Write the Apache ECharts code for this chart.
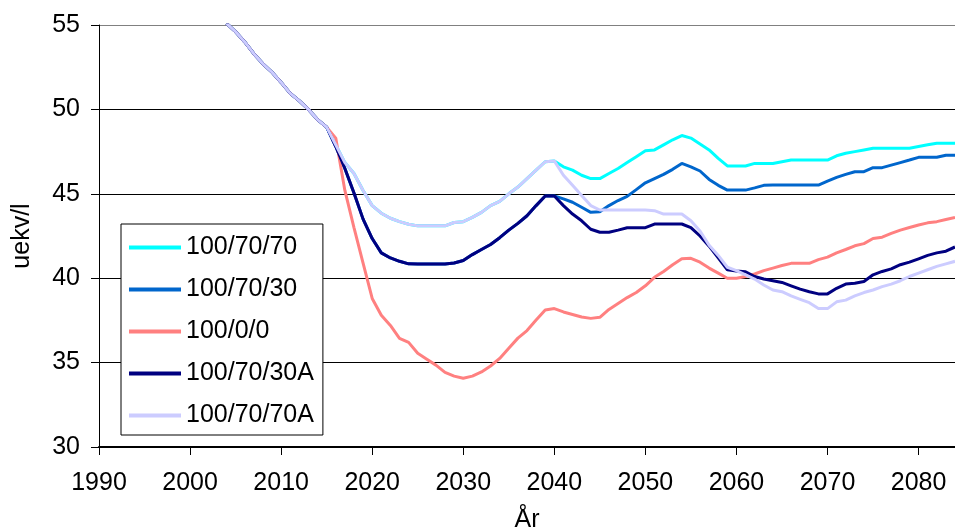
<!DOCTYPE html>
<html>
<head>
<meta charset="utf-8">
<script src="https://cdn.jsdelivr.net/npm/echarts@6/dist/echarts.min.js"></script>
<style>
    html, body { margin: 0; padding: 0; background: #fff; }
    #chart { width: 955px; height: 530px; }
</style>
</head>
<body>
<div id="chart"></div>
<script>
var years = [
    2004, 2005, 2006, 2007, 2008, 2009, 2010, 2011, 2012, 2013, 2014, 2015,
    2016, 2017, 2018, 2019, 2020, 2021, 2022, 2023, 2024, 2025,
    2026, 2027, 2028, 2029, 2030, 2031, 2032, 2033, 2034, 2035,
    2036, 2037, 2038, 2039, 2040, 2041, 2042, 2043, 2044, 2045,
    2046, 2047, 2048, 2049, 2050, 2051, 2052, 2053, 2054, 2055,
    2056, 2057, 2058, 2059, 2060, 2061, 2062, 2063, 2064, 2065,
    2066, 2067, 2068, 2069, 2070, 2071, 2072, 2073, 2074, 2075,
    2076, 2077, 2078, 2079, 2080, 2081, 2082, 2083, 2084
];

var seriesNames = ["100/70/70", "100/70/30", "100/0/0", "100/70/30A", "100/70/70A"];
var seriesColors = ["#00FFFF", "#0066CC", "#FF8080", "#000080", "#CCCCFF"];

// 2004-2015, all scenarios together
var sharedStart = [55.1, 54.6, 54.0, 53.3, 52.7, 52.2, 51.6, 50.95, 50.5, 50.0, 49.4, 48.95];

// 2016-2040, 100/70/70 and 100/70/70A run together
var upperMid = [
    47.9, 46.85, 46.2, 45.2, 44.3, 43.85, 43.55, 43.35, 43.2, 43.1,
    43.1, 43.1, 43.1, 43.3, 43.35, 43.6, 43.9, 44.3, 44.55, 45.0,
    45.4, 45.9, 46.4, 46.9, 46.95
];

// 2016-2040, 100/70/30 and 100/70/30A run together
var lowerMid = [
    47.8, 46.5, 45.05, 43.5, 42.35, 41.5, 41.2, 41.0, 40.85, 40.84,
    40.84, 40.84, 40.84, 40.9, 41.05, 41.4, 41.7, 42.0, 42.4, 42.85,
    43.25, 43.7, 44.3, 44.87, 44.87
];

// 2041-2084
var tail7070 = [
    46.6, 46.4, 46.1, 45.9, 45.9, 46.2, 46.5, 46.85, 47.2, 47.55,
    47.6, 47.9, 48.2, 48.45, 48.3, 47.95, 47.6, 47.1, 46.65, 46.65,
    46.65, 46.8, 46.8, 46.8, 46.9, 47.0, 47.0, 47.0, 47.0, 47.0,
    47.25, 47.4, 47.5, 47.6, 47.7, 47.7, 47.7, 47.7, 47.7, 47.8,
    47.9, 48.0, 48.0, 48.0
];

var tail7030 = [
    44.7, 44.5, 44.2, 43.9, 43.94, 44.3, 44.6, 44.85, 45.25, 45.65,
    45.9, 46.15, 46.45, 46.8, 46.6, 46.35, 45.85, 45.5, 45.22, 45.22,
    45.22, 45.35, 45.5, 45.52, 45.52, 45.52, 45.52, 45.52, 45.52, 45.75,
    45.97, 46.15, 46.31, 46.31, 46.55, 46.55, 46.7, 46.85, 47.0, 47.16,
    47.16, 47.16, 47.28, 47.28
];

var tail7030A = [
    44.3, 43.8, 43.4, 42.9, 42.72, 42.72, 42.85, 42.99, 42.99, 42.99,
    43.21, 43.21, 43.21, 43.21, 43.0, 42.5, 41.9, 41.2, 40.5, 40.43,
    40.38, 40.1, 39.95, 39.85, 39.75, 39.55, 39.35, 39.2, 39.07, 39.07,
    39.4, 39.65, 39.7, 39.8, 40.2, 40.4, 40.55, 40.8, 40.95, 41.15,
    41.35, 41.5, 41.6, 41.85
];

var tail7070A = [
    46.1, 45.5, 44.9, 44.3, 44.04, 44.04, 44.04, 44.04, 44.04, 44.04,
    44.0, 43.8, 43.8, 43.8, 43.4, 42.8, 41.95, 41.35, 40.65, 40.45,
    40.2, 39.95, 39.6, 39.3, 39.2, 38.95, 38.75, 38.55, 38.2, 38.2,
    38.6, 38.7, 38.95, 39.15, 39.3, 39.5, 39.65, 39.85, 40.1, 40.3,
    40.5, 40.7, 40.85, 41.0
];

// 2016-2084
var tail000 = [
    48.3, 45.2, 43.0, 40.9, 38.8, 37.8, 37.2, 36.44, 36.2, 35.55,
    35.2, 34.85, 34.42, 34.2, 34.07, 34.2, 34.45, 34.8, 35.25, 35.85,
    36.45, 36.9, 37.52, 38.12, 38.2, 38.0, 37.85, 37.7, 37.62, 37.68,
    38.15, 38.5, 38.85, 39.15, 39.55, 40.05, 40.4, 40.8, 41.15, 41.18,
    40.95, 40.6, 40.3, 40.0, 40.0, 40.1, 40.25, 40.45, 40.6, 40.75,
    40.88, 40.88, 40.88, 41.1, 41.25, 41.5, 41.7, 41.92, 42.05, 42.35,
    42.43, 42.65, 42.85, 43.0, 43.15, 43.28, 43.35, 43.48, 43.6
];

var yTicks = [30, 35, 40, 45, 50, 55];

var seriesValues = [
    sharedStart.concat(upperMid, tail7070),
    sharedStart.concat(lowerMid, tail7030),
    sharedStart.concat(tail000),
    sharedStart.concat(lowerMid, tail7030A),
    sharedStart.concat(upperMid, tail7070A)
];

var font = "'Liberation Sans', Arial, Helvetica, sans-serif";

function pairUp(values) {
    return years.map(function (y, i) {
        return [y, values[i]];
    });
}

var chart = echarts.init(document.getElementById("chart"));

var option = {
    animation: false,
    backgroundColor: "#fff",
    textStyle: {
        fontFamily: font
    },
    grid: {
        left: 99,
        right: 0,
        top: 25,
        bottom: 83,
        containLabel: false,
        outerBoundsMode: "none"
    },
    legend: {
        orient: "vertical",
        left: 121,
        top: 224,
        data: seriesNames,
        icon: "rect",
        itemWidth: 52,
        itemHeight: 4,
        itemGap: 17,
        padding: [11, 9, 7, 8],
        borderColor: "#000",
        borderWidth: 1,
        backgroundColor: "#fff",
        selectedMode: false,
        textStyle: {
            fontSize: 25,
            lineHeight: 25,
            color: "#000",
            fontFamily: font
        }
    },
    xAxis: {
        type: "value",
        min: 1990,
        max: 2084,
        interval: 10,
        name: "År",
        nameLocation: "middle",
        nameGap: 61,
        nameTextStyle: {
            fontSize: 25,
            color: "#000",
            fontFamily: font
        },
        axisLine: {
            lineStyle: { color: "#000", width: 2 }
        },
        axisTick: {
            length: 8,
            lineStyle: { color: "#000" }
        },
        axisLabel: {
            fontSize: 25,
            color: "#000",
            margin: 24,
            showMaxLabel: false,
            formatter: function (v) {
                return v % 10 === 0 ? String(v) : "";
            }
        },
        splitLine: { show: false }
    },
    yAxis: {
        type: "value",
        min: yTicks[0],
        max: yTicks[yTicks.length - 1],
        interval: 5,
        name: "uekv/l",
        nameLocation: "middle",
        nameGap: 64,
        nameTextStyle: {
            fontSize: 25,
            color: "#000",
            fontFamily: font
        },
        axisLine: {
            show: true,
            lineStyle: { color: "#000", width: 1 }
        },
        axisTick: {
            show: true,
            length: 8,
            lineStyle: { color: "#000" }
        },
        axisLabel: {
            fontSize: 25,
            color: "#000",
            margin: 19
        },
        splitLine: {
            show: true,
            lineStyle: {
                color: ["#000", "#000", "#000", "#000", "#000", "#808080"],
                width: 1
            }
        }
    },
    series: seriesNames.map(function (name, i) {
        return {
            name: name,
            type: "line",
            data: pairUp(seriesValues[i]),
            showSymbol: false,
            symbol: "none",
            clip: true,
            color: seriesColors[i],
            lineStyle: {
                width: 3,
                color: seriesColors[i]
            }
        };
    })
};

chart.setOption(option);
</script>
</body>
</html>
